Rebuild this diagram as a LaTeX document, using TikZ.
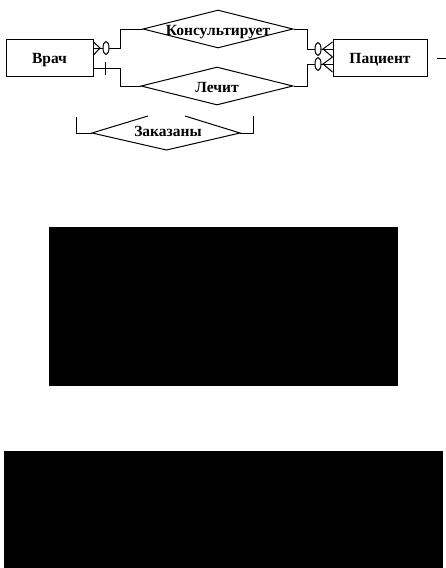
\documentclass[tikz,border=0pt]{standalone}
\usepackage{fontspec}
\setmainfont{Liberation Serif}
\usetikzlibrary{shapes.geometric,calc}
\newcommand{\lowtext}[2]{\makebox[0pt]{\raisebox{-#1pt}[0pt][0pt]{#2}}}
\begin{document}
\begin{tikzpicture}[x=1pt,y=-1pt,line width=1pt,
  lbl/.style={font=\bfseries\fontsize{15.5}{17}\selectfont},
  ent/.style={draw,rectangle,inner sep=0pt,lbl},
  reln/.style={draw,diamond,inner sep=0pt,lbl},
  ring/.style={draw,fill=white,x radius=3,y radius=6.5},
]
\useasboundingbox (0,0) rectangle (446,568);
% entities
\node[ent,minimum width=87,minimum height=37] (vrach) at (49.5,57.5) {\lowtext{6}{Врач}};
\node[ent,minimum width=94,minimum height=37] (pac) at (380,57.5) {\lowtext{6}{Пациент}};
% relationships
\node[reln,minimum width=150,minimum height=38] (kons) at (218,29) {\lowtext{6}{Консультирует}};
\node[reln,minimum width=152,minimum height=38] (lech) at (217,86) {\lowtext{6}{Лечит}};
% Zakazany diamond (top partly hidden)
\coordinate (zw) at (92,133);
\coordinate (ze) at (240,133);
\coordinate (zs) at (166.5,150);
\coordinate (zgl) at (148,116);
\coordinate (zgr) at (185,116);
\node[lbl,anchor=base,inner sep=0pt] (zak) at (168,136.5) {Заказаны};
\draw (zgl) -- (zw) -- (zs) -- (ze) -- (zgr);
\coordinate (zbl) at (76,117);
\coordinate (zbr) at (253,116);
\draw (zbl) |- (zw);
\draw (zbr) |- (ze);
% Vrach -- Konsultiruet
\coordinate (v1) at (120,48);
\draw (vrach.east |- v1) -- (v1) |- (kons.west);
\draw (vrach.east |- 0,42) -- (100,48) -- (vrach.east |- 0,55);
\draw[ring] (106,48) ellipse [];
% Vrach -- Lechit
\coordinate (v2) at (120,68);
\draw (vrach.east |- v2) -- (v2) |- (lech.west);
\draw (105,62) -- (105,75);
% Konsultiruet -- Pacient
\coordinate (p1) at (307,49);
\draw (kons.east) -| (p1) -- (pac.west |- p1);
\draw (pac.west |- 0,42) -- (323,49) -- (pac.west |- 0,57);
\draw[ring] (318,49) ellipse [];
% Lechit -- Pacient
\coordinate (p2) at (307,64);
\draw (lech.east) -| (p2) -- (pac.west |- p2);
\draw (pac.west |- 0,57) -- (323,64) -- (pac.west |- 0,72);
\draw[ring] (318,64) ellipse [];
% stub right of Pacient
\coordinate (s1) at (437,58);
\coordinate (s2) at (446,58);
\draw (s1) -- (s2);
% black panels
\fill (49,227) rectangle (398,386);
\fill (4,451) rectangle (443,568);
\end{tikzpicture}
\end{document}
